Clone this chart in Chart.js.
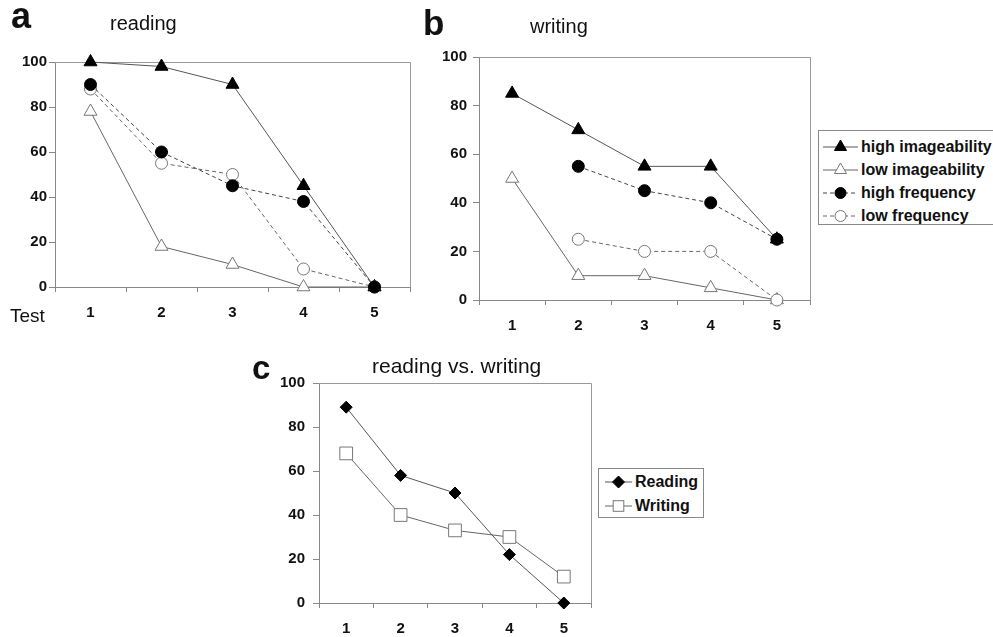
<!DOCTYPE html>
<html>
<head>
<meta charset="utf-8">
<script src="https://cdn.jsdelivr.net/npm/chart.js@4.4.1/dist/chart.umd.min.js"></script>
<style>
body { margin:0; background:#fff; width:993px; height:637px; overflow:hidden; position:relative; font-family:"Liberation Sans", Arial, sans-serif; }
canvas { position:absolute; left:0; top:0; }
.txt { position:absolute; line-height:1; white-space:nowrap; color:#111; }
.legend { position:absolute; border:1px solid #888; background:#fff; box-sizing:border-box; }
.legend .row { display:flex; align-items:center; font-weight:bold; font-size:16px; color:#111; }
.legend svg { margin-right:3px; }
</style>
</head>
<body>
<canvas id="chartA" width="993" height="637"></canvas>
<canvas id="chartB" width="993" height="637"></canvas>
<canvas id="chartC" width="993" height="637"></canvas>

<div class="txt" style="left:11px;top:-2px;font-size:36px;font-weight:bold;">a</div>
<div class="txt" style="left:110px;top:13px;font-size:20px;">reading</div>
<div class="txt" style="left:10px;top:306px;font-size:19px;">Test</div>
<div class="txt" style="left:423px;top:5px;font-size:35px;font-weight:bold;">b</div>
<div class="txt" style="left:530px;top:16px;font-size:20px;">writing</div>
<div class="txt" style="left:252px;top:351px;font-size:33px;font-weight:bold;">c</div>
<div class="txt" style="left:372px;top:355px;font-size:21px;">reading vs. writing</div>

<div class="legend" id="legendB" style="left:818px;top:130px;width:185px;height:95px;padding-top:4px;padding-left:4px;"></div>
<div class="legend" id="legendC" style="left:598px;top:468px;width:106px;height:50px;padding-top:1px;padding-left:6px;"></div>

<script>
const tests = ["1", "2", "3", "4", "5"];
const yTicks = [0, 20, 40, 60, 80, 100];

// panel a: reading
const readHighImage = [100, 98, 90, 45, 0];
const readLowImage = [78, 18, 10, 0, 0];
const readHighFreq = [90, 60, 45, 38, 0];
const readLowFreq = [88, 55, 50, 8, 0];

// panel b: writing
const writeHighImage = [85, 70, 55, 55, 25];
const writeLowImage = [50, 10, 10, 5, 0];
const writeHighFreq = [null, 55, 45, 40, 25];
const writeLowFreq = [null, 25, 20, 20, 0];

// panel c: reading vs writing
const overallReading = [89, 58, 50, 22, 0];
const overallWriting = [68, 40, 33, 30, 12];

const seriesNames = ["high imageability", "low imageability", "high frequency", "low frequency"];
const compareNames = ["Reading", "Writing"];

const looks = {
  "high imageability": { line: "#555", dash: [], shape: "triangle", fill: "#000", edge: "#000", r: 7.5, order: 2 },
  "low imageability":  { line: "#666", dash: [], shape: "triangle", fill: "#fff", edge: "#777", r: 7.5, order: 3 },
  "high frequency":    { line: "#444", dash: [4, 3], shape: "circle", fill: "#000", edge: "#000", r: 6, order: 0 },
  "low frequency":     { line: "#666", dash: [4, 3], shape: "circle", fill: "#fff", edge: "#777", r: 6, order: 1 },
  "Reading":           { line: "#555", dash: [], shape: "rectRot", fill: "#000", edge: "#000", r: 6, order: 0 },
  "Writing":           { line: "#666", dash: [], shape: "rect", fill: "#fff", edge: "#777", r: 9, order: 1 }
};

function makeSet(name, values) {
  const s = looks[name];
  return {
    label: name,
    data: values,
    borderColor: s.line,
    borderWidth: 1,
    borderDash: s.dash,
    pointStyle: s.shape,
    pointRadius: s.r,
    pointBackgroundColor: s.fill,
    pointBorderColor: s.edge,
    pointBorderWidth: 1,
    tension: 0,
    fill: false,
    clip: false,
    order: s.order
  };
}

// top and right edges of the plot box
const frame = {
  id: "frame",
  beforeDatasetsDraw(chart) {
    const a = chart.chartArea, ctx = chart.ctx;
    ctx.save();
    ctx.strokeStyle = "#999";
    ctx.lineWidth = 1;
    ctx.beginPath();
    ctx.moveTo(Math.round(a.left), Math.round(a.top) + 0.5);
    ctx.lineTo(Math.round(a.right) + 0.5, Math.round(a.top) + 0.5);
    ctx.lineTo(Math.round(a.right) + 0.5, Math.round(a.bottom));
    ctx.stroke();
    ctx.restore();
  }
};

const tickFont = { family: "'Liberation Sans', Arial, sans-serif", size: 15, weight: "bold" };

function drawPanel(id, pad, yPad, xH, datasets) {
  new Chart(document.getElementById(id), {
    type: "line",
    data: { labels: tests, datasets: datasets },
    options: {
      responsive: false,
      animation: false,
      events: [],
      layout: { padding: pad },
      plugins: { legend: { display: false }, tooltip: { enabled: false } },
      scales: {
        x: {
          offset: true,
          grid: { offset: true, drawOnChartArea: false, tickLength: 5, color: "#888" },
          border: { color: "#888" },
          ticks: { color: "#111", font: tickFont, padding: 12, maxRotation: 0 },
          afterFit: s => { s.height = xH; }
        },
        y: {
          min: 0,
          max: 100,
          afterBuildTicks: s => { s.ticks = yTicks.map(v => ({ value: v })); },
          grid: { drawOnChartArea: false, tickLength: 6, color: "#888" },
          border: { color: "#888" },
          ticks: { color: "#111", font: tickFont, padding: yPad },
          afterFit: s => { s.width = 45; }
        }
      }
    },
    plugins: [frame]
  });
}

drawPanel("chartA", { left: 10, top: 62, right: 583, bottom: 315 }, 2, 35,
  [readHighImage, readLowImage, readHighFreq, readLowFreq].map((v, i) => makeSet(seriesNames[i], v)));

drawPanel("chartB", { left: 434, top: 57, right: 183, bottom: 302 }, 6, 35,
  [writeHighImage, writeLowImage, writeHighFreq, writeLowFreq].map((v, i) => makeSet(seriesNames[i], v)));

drawPanel("chartC", { left: 274, top: 383, right: 402, bottom: 4 }, 8, 30,
  [overallReading, overallWriting].map((v, i) => makeSet(compareNames[i], v)));

// legends
function markerSvg(name, lineLen) {
  const s = looks[name];
  const w = lineLen, h = 16, cx = w / 2, cy = h / 2;
  const dash = s.dash.length ? ` stroke-dasharray="${s.dash.join(',')}"` : "";
  let shape = "";
  const r = s.shape === "rect" ? 7.5 : (s.shape === "rectRot" ? 6 : (s.shape === "triangle" ? 7 : 5.5));
  if (s.shape === "triangle") {
    const p = [[cx, cy - r], [cx + 0.866 * r, cy + 0.5 * r], [cx - 0.866 * r, cy + 0.5 * r]];
    shape = `<polygon points="${p.map(q => q.join(',')).join(' ')}" fill="${s.fill}" stroke="${s.edge}"/>`;
  } else if (s.shape === "circle") {
    shape = `<circle cx="${cx}" cy="${cy}" r="${r}" fill="${s.fill}" stroke="${s.edge}"/>`;
  } else if (s.shape === "rectRot") {
    shape = `<polygon points="${cx - r},${cy} ${cx},${cy - r} ${cx + r},${cy} ${cx},${cy + r}" fill="${s.fill}" stroke="${s.edge}"/>`;
  } else {
    const half = r * Math.SQRT1_2;
    shape = `<rect x="${cx - half}" y="${cy - half}" width="${2 * half}" height="${2 * half}" fill="${s.fill}" stroke="${s.edge}"/>`;
  }
  return `<svg width="${w}" height="${h}"><line x1="0" y1="${cy}" x2="${w}" y2="${cy}" stroke="${s.line}"${dash}/>${shape}</svg>`;
}

function buildLegend(id, names, rowH, lineLen) {
  const box = document.getElementById(id);
  names.forEach(n => {
    const row = document.createElement("div");
    row.className = "row";
    row.style.height = rowH + "px";
    row.innerHTML = markerSvg(n, lineLen) + "<span>" + n + "</span>";
    box.appendChild(row);
  });
}

buildLegend("legendB", seriesNames, 23, 35);
buildLegend("legendC", compareNames, 24, 27);
</script>
</body>
</html>
